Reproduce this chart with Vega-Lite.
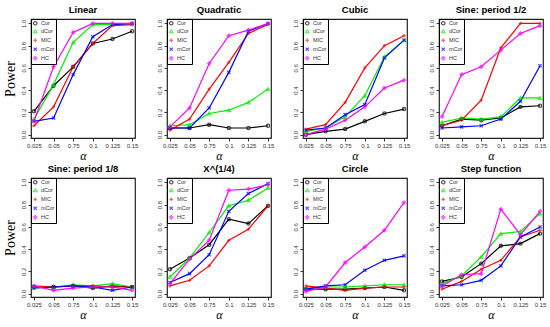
{
  "$schema": "https://vega.github.io/schema/vega-lite/v6.json",
  "padding": {"left": 2, "top": 4, "right": 2, "bottom": 0},
  "background": "white",
  "data": {"values": [
    {"panel":"Linear","method":"Cor","alpha":"0.025","power":0.21},
    {"panel":"Linear","method":"Cor","alpha":"0.05","power":0.44},
    {"panel":"Linear","method":"Cor","alpha":"0.75","power":0.61},
    {"panel":"Linear","method":"Cor","alpha":"0.1","power":0.82},
    {"panel":"Linear","method":"Cor","alpha":"0.125","power":0.86},
    {"panel":"Linear","method":"Cor","alpha":"0.15","power":0.93},
    {"panel":"Linear","method":"dCor","alpha":"0.025","power":0.14},
    {"panel":"Linear","method":"dCor","alpha":"0.05","power":0.45},
    {"panel":"Linear","method":"dCor","alpha":"0.75","power":0.83},
    {"panel":"Linear","method":"dCor","alpha":"0.1","power":0.99},
    {"panel":"Linear","method":"dCor","alpha":"0.125","power":0.99},
    {"panel":"Linear","method":"dCor","alpha":"0.15","power":1.0},
    {"panel":"Linear","method":"MIC","alpha":"0.025","power":0.08},
    {"panel":"Linear","method":"MIC","alpha":"0.05","power":0.25},
    {"panel":"Linear","method":"MIC","alpha":"0.75","power":0.61},
    {"panel":"Linear","method":"MIC","alpha":"0.1","power":0.82},
    {"panel":"Linear","method":"MIC","alpha":"0.125","power":0.98},
    {"panel":"Linear","method":"MIC","alpha":"0.15","power":0.99},
    {"panel":"Linear","method":"mCor","alpha":"0.025","power":0.12},
    {"panel":"Linear","method":"mCor","alpha":"0.05","power":0.15},
    {"panel":"Linear","method":"mCor","alpha":"0.75","power":0.54},
    {"panel":"Linear","method":"mCor","alpha":"0.1","power":0.88},
    {"panel":"Linear","method":"mCor","alpha":"0.125","power":0.99},
    {"panel":"Linear","method":"mCor","alpha":"0.15","power":1.0},
    {"panel":"Linear","method":"HC","alpha":"0.025","power":0.12},
    {"panel":"Linear","method":"HC","alpha":"0.05","power":0.61},
    {"panel":"Linear","method":"HC","alpha":"0.75","power":0.92},
    {"panel":"Linear","method":"HC","alpha":"0.1","power":1.0},
    {"panel":"Linear","method":"HC","alpha":"0.125","power":1.0},
    {"panel":"Linear","method":"HC","alpha":"0.15","power":1.0},

    {"panel":"Quadratic","method":"Cor","alpha":"0.025","power":0.06},
    {"panel":"Quadratic","method":"Cor","alpha":"0.05","power":0.06},
    {"panel":"Quadratic","method":"Cor","alpha":"0.75","power":0.09},
    {"panel":"Quadratic","method":"Cor","alpha":"0.1","power":0.06},
    {"panel":"Quadratic","method":"Cor","alpha":"0.125","power":0.06},
    {"panel":"Quadratic","method":"Cor","alpha":"0.15","power":0.08},
    {"panel":"Quadratic","method":"dCor","alpha":"0.025","power":0.08},
    {"panel":"Quadratic","method":"dCor","alpha":"0.05","power":0.09},
    {"panel":"Quadratic","method":"dCor","alpha":"0.75","power":0.19},
    {"panel":"Quadratic","method":"dCor","alpha":"0.1","power":0.22},
    {"panel":"Quadratic","method":"dCor","alpha":"0.125","power":0.29},
    {"panel":"Quadratic","method":"dCor","alpha":"0.15","power":0.41},
    {"panel":"Quadratic","method":"MIC","alpha":"0.025","power":0.04},
    {"panel":"Quadratic","method":"MIC","alpha":"0.05","power":0.14},
    {"panel":"Quadratic","method":"MIC","alpha":"0.75","power":0.41},
    {"panel":"Quadratic","method":"MIC","alpha":"0.1","power":0.65},
    {"panel":"Quadratic","method":"MIC","alpha":"0.125","power":0.91},
    {"panel":"Quadratic","method":"MIC","alpha":"0.15","power":0.99},
    {"panel":"Quadratic","method":"mCor","alpha":"0.025","power":0.06},
    {"panel":"Quadratic","method":"mCor","alpha":"0.05","power":0.06},
    {"panel":"Quadratic","method":"mCor","alpha":"0.75","power":0.24},
    {"panel":"Quadratic","method":"mCor","alpha":"0.1","power":0.56},
    {"panel":"Quadratic","method":"mCor","alpha":"0.125","power":0.93},
    {"panel":"Quadratic","method":"mCor","alpha":"0.15","power":1.0},
    {"panel":"Quadratic","method":"HC","alpha":"0.025","power":0.07},
    {"panel":"Quadratic","method":"HC","alpha":"0.05","power":0.24},
    {"panel":"Quadratic","method":"HC","alpha":"0.75","power":0.64},
    {"panel":"Quadratic","method":"HC","alpha":"0.1","power":0.89},
    {"panel":"Quadratic","method":"HC","alpha":"0.125","power":0.94},
    {"panel":"Quadratic","method":"HC","alpha":"0.15","power":1.0},

    {"panel":"Cubic","method":"Cor","alpha":"0.025","power":0.0},
    {"panel":"Cubic","method":"Cor","alpha":"0.05","power":0.03},
    {"panel":"Cubic","method":"Cor","alpha":"0.75","power":0.05},
    {"panel":"Cubic","method":"Cor","alpha":"0.1","power":0.12},
    {"panel":"Cubic","method":"Cor","alpha":"0.125","power":0.19},
    {"panel":"Cubic","method":"Cor","alpha":"0.15","power":0.23},
    {"panel":"Cubic","method":"dCor","alpha":"0.025","power":0.03},
    {"panel":"Cubic","method":"dCor","alpha":"0.05","power":0.06},
    {"panel":"Cubic","method":"dCor","alpha":"0.75","power":0.16},
    {"panel":"Cubic","method":"dCor","alpha":"0.1","power":0.35},
    {"panel":"Cubic","method":"dCor","alpha":"0.125","power":0.70},
    {"panel":"Cubic","method":"dCor","alpha":"0.15","power":0.85},
    {"panel":"Cubic","method":"MIC","alpha":"0.025","power":0.05},
    {"panel":"Cubic","method":"MIC","alpha":"0.05","power":0.09},
    {"panel":"Cubic","method":"MIC","alpha":"0.75","power":0.29},
    {"panel":"Cubic","method":"MIC","alpha":"0.1","power":0.60},
    {"panel":"Cubic","method":"MIC","alpha":"0.125","power":0.80},
    {"panel":"Cubic","method":"MIC","alpha":"0.15","power":0.89},
    {"panel":"Cubic","method":"mCor","alpha":"0.025","power":0.04},
    {"panel":"Cubic","method":"mCor","alpha":"0.05","power":0.06},
    {"panel":"Cubic","method":"mCor","alpha":"0.75","power":0.18},
    {"panel":"Cubic","method":"mCor","alpha":"0.1","power":0.27},
    {"panel":"Cubic","method":"mCor","alpha":"0.125","power":0.69},
    {"panel":"Cubic","method":"mCor","alpha":"0.15","power":0.85},
    {"panel":"Cubic","method":"HC","alpha":"0.025","power":0.0},
    {"panel":"Cubic","method":"HC","alpha":"0.05","power":0.05},
    {"panel":"Cubic","method":"HC","alpha":"0.75","power":0.13},
    {"panel":"Cubic","method":"HC","alpha":"0.1","power":0.25},
    {"panel":"Cubic","method":"HC","alpha":"0.125","power":0.42},
    {"panel":"Cubic","method":"HC","alpha":"0.15","power":0.49},

    {"panel":"Sine: period 1/2","method":"Cor","alpha":"0.025","power":0.08},
    {"panel":"Sine: period 1/2","method":"Cor","alpha":"0.05","power":0.14},
    {"panel":"Sine: period 1/2","method":"Cor","alpha":"0.75","power":0.13},
    {"panel":"Sine: period 1/2","method":"Cor","alpha":"0.1","power":0.15},
    {"panel":"Sine: period 1/2","method":"Cor","alpha":"0.125","power":0.25},
    {"panel":"Sine: period 1/2","method":"Cor","alpha":"0.15","power":0.26},
    {"panel":"Sine: period 1/2","method":"dCor","alpha":"0.025","power":0.11},
    {"panel":"Sine: period 1/2","method":"dCor","alpha":"0.05","power":0.15},
    {"panel":"Sine: period 1/2","method":"dCor","alpha":"0.75","power":0.14},
    {"panel":"Sine: period 1/2","method":"dCor","alpha":"0.1","power":0.16},
    {"panel":"Sine: period 1/2","method":"dCor","alpha":"0.125","power":0.33},
    {"panel":"Sine: period 1/2","method":"dCor","alpha":"0.15","power":0.33},
    {"panel":"Sine: period 1/2","method":"MIC","alpha":"0.025","power":0.08},
    {"panel":"Sine: period 1/2","method":"MIC","alpha":"0.05","power":0.13},
    {"panel":"Sine: period 1/2","method":"MIC","alpha":"0.75","power":0.31},
    {"panel":"Sine: period 1/2","method":"MIC","alpha":"0.1","power":0.78},
    {"panel":"Sine: period 1/2","method":"MIC","alpha":"0.125","power":1.0},
    {"panel":"Sine: period 1/2","method":"MIC","alpha":"0.15","power":1.0},
    {"panel":"Sine: period 1/2","method":"mCor","alpha":"0.025","power":0.06},
    {"panel":"Sine: period 1/2","method":"mCor","alpha":"0.05","power":0.07},
    {"panel":"Sine: period 1/2","method":"mCor","alpha":"0.75","power":0.08},
    {"panel":"Sine: period 1/2","method":"mCor","alpha":"0.1","power":0.14},
    {"panel":"Sine: period 1/2","method":"mCor","alpha":"0.125","power":0.30},
    {"panel":"Sine: period 1/2","method":"mCor","alpha":"0.15","power":0.62},
    {"panel":"Sine: period 1/2","method":"HC","alpha":"0.025","power":0.16},
    {"panel":"Sine: period 1/2","method":"HC","alpha":"0.05","power":0.54},
    {"panel":"Sine: period 1/2","method":"HC","alpha":"0.75","power":0.61},
    {"panel":"Sine: period 1/2","method":"HC","alpha":"0.1","power":0.76},
    {"panel":"Sine: period 1/2","method":"HC","alpha":"0.125","power":0.91},
    {"panel":"Sine: period 1/2","method":"HC","alpha":"0.15","power":0.98},

    {"panel":"Sine: period 1/8","method":"Cor","alpha":"0.025","power":0.06},
    {"panel":"Sine: period 1/8","method":"Cor","alpha":"0.05","power":0.06},
    {"panel":"Sine: period 1/8","method":"Cor","alpha":"0.75","power":0.07},
    {"panel":"Sine: period 1/8","method":"Cor","alpha":"0.1","power":0.05},
    {"panel":"Sine: period 1/8","method":"Cor","alpha":"0.125","power":0.07},
    {"panel":"Sine: period 1/8","method":"Cor","alpha":"0.15","power":0.06},
    {"panel":"Sine: period 1/8","method":"dCor","alpha":"0.025","power":0.06},
    {"panel":"Sine: period 1/8","method":"dCor","alpha":"0.05","power":0.06},
    {"panel":"Sine: period 1/8","method":"dCor","alpha":"0.75","power":0.08},
    {"panel":"Sine: period 1/8","method":"dCor","alpha":"0.1","power":0.07},
    {"panel":"Sine: period 1/8","method":"dCor","alpha":"0.125","power":0.09},
    {"panel":"Sine: period 1/8","method":"dCor","alpha":"0.15","power":0.06},
    {"panel":"Sine: period 1/8","method":"MIC","alpha":"0.025","power":0.07},
    {"panel":"Sine: period 1/8","method":"MIC","alpha":"0.05","power":0.06},
    {"panel":"Sine: period 1/8","method":"MIC","alpha":"0.75","power":0.07},
    {"panel":"Sine: period 1/8","method":"MIC","alpha":"0.1","power":0.07},
    {"panel":"Sine: period 1/8","method":"MIC","alpha":"0.125","power":0.06},
    {"panel":"Sine: period 1/8","method":"MIC","alpha":"0.15","power":0.06},
    {"panel":"Sine: period 1/8","method":"mCor","alpha":"0.025","power":0.05},
    {"panel":"Sine: period 1/8","method":"mCor","alpha":"0.05","power":0.06},
    {"panel":"Sine: period 1/8","method":"mCor","alpha":"0.75","power":0.07},
    {"panel":"Sine: period 1/8","method":"mCor","alpha":"0.1","power":0.06},
    {"panel":"Sine: period 1/8","method":"mCor","alpha":"0.125","power":0.03},
    {"panel":"Sine: period 1/8","method":"mCor","alpha":"0.15","power":0.06},
    {"panel":"Sine: period 1/8","method":"HC","alpha":"0.025","power":0.07},
    {"panel":"Sine: period 1/8","method":"HC","alpha":"0.05","power":0.03},
    {"panel":"Sine: period 1/8","method":"HC","alpha":"0.75","power":0.05},
    {"panel":"Sine: period 1/8","method":"HC","alpha":"0.1","power":0.06},
    {"panel":"Sine: period 1/8","method":"HC","alpha":"0.125","power":0.06},
    {"panel":"Sine: period 1/8","method":"HC","alpha":"0.15","power":0.03},

    {"panel":"X^(1/4)","method":"Cor","alpha":"0.025","power":0.22},
    {"panel":"X^(1/4)","method":"Cor","alpha":"0.05","power":0.32},
    {"panel":"X^(1/4)","method":"Cor","alpha":"0.75","power":0.44},
    {"panel":"X^(1/4)","method":"Cor","alpha":"0.1","power":0.67},
    {"panel":"X^(1/4)","method":"Cor","alpha":"0.125","power":0.63},
    {"panel":"X^(1/4)","method":"Cor","alpha":"0.15","power":0.79},
    {"panel":"X^(1/4)","method":"dCor","alpha":"0.025","power":0.15},
    {"panel":"X^(1/4)","method":"dCor","alpha":"0.05","power":0.32},
    {"panel":"X^(1/4)","method":"dCor","alpha":"0.75","power":0.55},
    {"panel":"X^(1/4)","method":"dCor","alpha":"0.1","power":0.79},
    {"panel":"X^(1/4)","method":"dCor","alpha":"0.125","power":0.84},
    {"panel":"X^(1/4)","method":"dCor","alpha":"0.15","power":0.95},
    {"panel":"X^(1/4)","method":"MIC","alpha":"0.025","power":0.07},
    {"panel":"X^(1/4)","method":"MIC","alpha":"0.05","power":0.12},
    {"panel":"X^(1/4)","method":"MIC","alpha":"0.75","power":0.25},
    {"panel":"X^(1/4)","method":"MIC","alpha":"0.1","power":0.48},
    {"panel":"X^(1/4)","method":"MIC","alpha":"0.125","power":0.58},
    {"panel":"X^(1/4)","method":"MIC","alpha":"0.15","power":0.79},
    {"panel":"X^(1/4)","method":"mCor","alpha":"0.025","power":0.10},
    {"panel":"X^(1/4)","method":"mCor","alpha":"0.05","power":0.18},
    {"panel":"X^(1/4)","method":"mCor","alpha":"0.75","power":0.35},
    {"panel":"X^(1/4)","method":"mCor","alpha":"0.1","power":0.74},
    {"panel":"X^(1/4)","method":"mCor","alpha":"0.125","power":0.90},
    {"panel":"X^(1/4)","method":"mCor","alpha":"0.15","power":0.99},
    {"panel":"X^(1/4)","method":"HC","alpha":"0.025","power":0.09},
    {"panel":"X^(1/4)","method":"HC","alpha":"0.05","power":0.31},
    {"panel":"X^(1/4)","method":"HC","alpha":"0.75","power":0.48},
    {"panel":"X^(1/4)","method":"HC","alpha":"0.1","power":0.93},
    {"panel":"X^(1/4)","method":"HC","alpha":"0.125","power":0.94},
    {"panel":"X^(1/4)","method":"HC","alpha":"0.15","power":0.98},

    {"panel":"Circle","method":"Cor","alpha":"0.025","power":0.04},
    {"panel":"Circle","method":"Cor","alpha":"0.05","power":0.04},
    {"panel":"Circle","method":"Cor","alpha":"0.75","power":0.04},
    {"panel":"Circle","method":"Cor","alpha":"0.1","power":0.05},
    {"panel":"Circle","method":"Cor","alpha":"0.125","power":0.06},
    {"panel":"Circle","method":"Cor","alpha":"0.15","power":0.03},
    {"panel":"Circle","method":"dCor","alpha":"0.025","power":0.05},
    {"panel":"Circle","method":"dCor","alpha":"0.05","power":0.06},
    {"panel":"Circle","method":"dCor","alpha":"0.75","power":0.06},
    {"panel":"Circle","method":"dCor","alpha":"0.1","power":0.07},
    {"panel":"Circle","method":"dCor","alpha":"0.125","power":0.08},
    {"panel":"Circle","method":"dCor","alpha":"0.15","power":0.08},
    {"panel":"Circle","method":"MIC","alpha":"0.025","power":0.07},
    {"panel":"Circle","method":"MIC","alpha":"0.05","power":0.05},
    {"panel":"Circle","method":"MIC","alpha":"0.75","power":0.03},
    {"panel":"Circle","method":"MIC","alpha":"0.1","power":0.05},
    {"panel":"Circle","method":"MIC","alpha":"0.125","power":0.06},
    {"panel":"Circle","method":"MIC","alpha":"0.15","power":0.06},
    {"panel":"Circle","method":"mCor","alpha":"0.025","power":0.04},
    {"panel":"Circle","method":"mCor","alpha":"0.05","power":0.07},
    {"panel":"Circle","method":"mCor","alpha":"0.75","power":0.08},
    {"panel":"Circle","method":"mCor","alpha":"0.1","power":0.21},
    {"panel":"Circle","method":"mCor","alpha":"0.125","power":0.30},
    {"panel":"Circle","method":"mCor","alpha":"0.15","power":0.34},
    {"panel":"Circle","method":"HC","alpha":"0.025","power":0.02},
    {"panel":"Circle","method":"HC","alpha":"0.05","power":0.06},
    {"panel":"Circle","method":"HC","alpha":"0.75","power":0.28},
    {"panel":"Circle","method":"HC","alpha":"0.1","power":0.42},
    {"panel":"Circle","method":"HC","alpha":"0.125","power":0.57},
    {"panel":"Circle","method":"HC","alpha":"0.15","power":0.82},

    {"panel":"Step function","method":"Cor","alpha":"0.025","power":0.11},
    {"panel":"Step function","method":"Cor","alpha":"0.05","power":0.15},
    {"panel":"Step function","method":"Cor","alpha":"0.75","power":0.27},
    {"panel":"Step function","method":"Cor","alpha":"0.1","power":0.43},
    {"panel":"Step function","method":"Cor","alpha":"0.125","power":0.45},
    {"panel":"Step function","method":"Cor","alpha":"0.15","power":0.54},
    {"panel":"Step function","method":"dCor","alpha":"0.025","power":0.09},
    {"panel":"Step function","method":"dCor","alpha":"0.05","power":0.16},
    {"panel":"Step function","method":"dCor","alpha":"0.75","power":0.33},
    {"panel":"Step function","method":"dCor","alpha":"0.1","power":0.54},
    {"panel":"Step function","method":"dCor","alpha":"0.125","power":0.56},
    {"panel":"Step function","method":"dCor","alpha":"0.15","power":0.72},
    {"panel":"Step function","method":"MIC","alpha":"0.025","power":0.04},
    {"panel":"Step function","method":"MIC","alpha":"0.05","power":0.11},
    {"panel":"Step function","method":"MIC","alpha":"0.75","power":0.22},
    {"panel":"Step function","method":"MIC","alpha":"0.1","power":0.30},
    {"panel":"Step function","method":"MIC","alpha":"0.125","power":0.51},
    {"panel":"Step function","method":"MIC","alpha":"0.15","power":0.57},
    {"panel":"Step function","method":"mCor","alpha":"0.025","power":0.07},
    {"panel":"Step function","method":"mCor","alpha":"0.05","power":0.08},
    {"panel":"Step function","method":"mCor","alpha":"0.75","power":0.12},
    {"panel":"Step function","method":"mCor","alpha":"0.1","power":0.25},
    {"panel":"Step function","method":"mCor","alpha":"0.125","power":0.51},
    {"panel":"Step function","method":"mCor","alpha":"0.15","power":0.60},
    {"panel":"Step function","method":"HC","alpha":"0.025","power":0.07},
    {"panel":"Step function","method":"HC","alpha":"0.05","power":0.17},
    {"panel":"Step function","method":"HC","alpha":"0.75","power":0.18},
    {"panel":"Step function","method":"HC","alpha":"0.1","power":0.76},
    {"panel":"Step function","method":"HC","alpha":"0.125","power":0.53},
    {"panel":"Step function","method":"HC","alpha":"0.15","power":0.74}
  ]},
  "columns": 4,
  "spacing": {"row": 0, "column": 16},
  "resolve": {"legend": {"color": "independent", "shape": "independent"}},
  "concat": [
    {"width":104,"height":119,"title":"Linear","transform":[{"filter":"datum.panel === 'Linear'"}],
     "encoding":{"x":{"field":"alpha","type":"ordinal","sort":["0.025","0.05","0.75","0.1","0.125","0.15"],"scale":{"type":"point","padding":0.15},"axis":{"title":"α"}},
       "y":{"field":"power","type":"quantitative","scale":{"domain":[-0.03,1.04],"nice":false,"zero":false},"axis":{"title":"Power","values":[0,0.2,0.4,0.6,0.8,1],"format":".1f"}},
       "color":{"field":"method","type":"nominal","scale":{"domain":["Cor","dCor","MIC","mCor","HC"],"range":["#000000","#00EE00","#FF0000","#0000FF","#FF00FF"]},"legend":{"title":null}}},
     "layer":[{"mark":{"type":"line","strokeWidth":1.2}},{"mark":{"type":"point","filled":false,"size":10,"strokeWidth":1.3},"encoding":{"shape":{"field":"method","type":"nominal","scale":{"domain":["Cor","dCor","MIC","mCor","HC"],"range":["circle","triangle-up","M0,-1V1M-1,0H1","M-1,-1L1,1M1,-1L-1,1","diamond"]},"legend":{"title":null}}}}]},
    {"width":104,"height":119,"title":"Quadratic","transform":[{"filter":"datum.panel === 'Quadratic'"}],
     "encoding":{"x":{"field":"alpha","type":"ordinal","sort":["0.025","0.05","0.75","0.1","0.125","0.15"],"scale":{"type":"point","padding":0.15},"axis":{"title":"α"}},
       "y":{"field":"power","type":"quantitative","scale":{"domain":[-0.03,1.04],"nice":false,"zero":false},"axis":{"title":null,"values":[0,0.2,0.4,0.6,0.8,1],"format":".1f"}},
       "color":{"field":"method","type":"nominal","scale":{"domain":["Cor","dCor","MIC","mCor","HC"],"range":["#000000","#00EE00","#FF0000","#0000FF","#FF00FF"]},"legend":{"title":null}}},
     "layer":[{"mark":{"type":"line","strokeWidth":1.2}},{"mark":{"type":"point","filled":false,"size":10,"strokeWidth":1.3},"encoding":{"shape":{"field":"method","type":"nominal","scale":{"domain":["Cor","dCor","MIC","mCor","HC"],"range":["circle","triangle-up","M0,-1V1M-1,0H1","M-1,-1L1,1M1,-1L-1,1","diamond"]},"legend":{"title":null}}}}]},
    {"width":104,"height":119,"title":"Cubic","transform":[{"filter":"datum.panel === 'Cubic'"}],
     "encoding":{"x":{"field":"alpha","type":"ordinal","sort":["0.025","0.05","0.75","0.1","0.125","0.15"],"scale":{"type":"point","padding":0.15},"axis":{"title":"α"}},
       "y":{"field":"power","type":"quantitative","scale":{"domain":[-0.03,1.04],"nice":false,"zero":false},"axis":{"title":null,"values":[0,0.2,0.4,0.6,0.8,1],"format":".1f"}},
       "color":{"field":"method","type":"nominal","scale":{"domain":["Cor","dCor","MIC","mCor","HC"],"range":["#000000","#00EE00","#FF0000","#0000FF","#FF00FF"]},"legend":{"title":null}}},
     "layer":[{"mark":{"type":"line","strokeWidth":1.2}},{"mark":{"type":"point","filled":false,"size":10,"strokeWidth":1.3},"encoding":{"shape":{"field":"method","type":"nominal","scale":{"domain":["Cor","dCor","MIC","mCor","HC"],"range":["circle","triangle-up","M0,-1V1M-1,0H1","M-1,-1L1,1M1,-1L-1,1","diamond"]},"legend":{"title":null}}}}]},
    {"width":104,"height":119,"title":"Sine: period 1/2","transform":[{"filter":"datum.panel === 'Sine: period 1/2'"}],
     "encoding":{"x":{"field":"alpha","type":"ordinal","sort":["0.025","0.05","0.75","0.1","0.125","0.15"],"scale":{"type":"point","padding":0.15},"axis":{"title":"α"}},
       "y":{"field":"power","type":"quantitative","scale":{"domain":[-0.03,1.04],"nice":false,"zero":false},"axis":{"title":null,"values":[0,0.2,0.4,0.6,0.8,1],"format":".1f"}},
       "color":{"field":"method","type":"nominal","scale":{"domain":["Cor","dCor","MIC","mCor","HC"],"range":["#000000","#00EE00","#FF0000","#0000FF","#FF00FF"]},"legend":{"title":null}}},
     "layer":[{"mark":{"type":"line","strokeWidth":1.2}},{"mark":{"type":"point","filled":false,"size":10,"strokeWidth":1.3},"encoding":{"shape":{"field":"method","type":"nominal","scale":{"domain":["Cor","dCor","MIC","mCor","HC"],"range":["circle","triangle-up","M0,-1V1M-1,0H1","M-1,-1L1,1M1,-1L-1,1","diamond"]},"legend":{"title":null}}}}]},
    {"width":104,"height":119,"title":"Sine: period 1/8","transform":[{"filter":"datum.panel === 'Sine: period 1/8'"}],
     "encoding":{"x":{"field":"alpha","type":"ordinal","sort":["0.025","0.05","0.75","0.1","0.125","0.15"],"scale":{"type":"point","padding":0.15},"axis":{"title":"α"}},
       "y":{"field":"power","type":"quantitative","scale":{"domain":[-0.03,1.04],"nice":false,"zero":false},"axis":{"title":"Power","values":[0,0.2,0.4,0.6,0.8,1],"format":".1f"}},
       "color":{"field":"method","type":"nominal","scale":{"domain":["Cor","dCor","MIC","mCor","HC"],"range":["#000000","#00EE00","#FF0000","#0000FF","#FF00FF"]},"legend":{"title":null}}},
     "layer":[{"mark":{"type":"line","strokeWidth":1.2}},{"mark":{"type":"point","filled":false,"size":10,"strokeWidth":1.3},"encoding":{"shape":{"field":"method","type":"nominal","scale":{"domain":["Cor","dCor","MIC","mCor","HC"],"range":["circle","triangle-up","M0,-1V1M-1,0H1","M-1,-1L1,1M1,-1L-1,1","diamond"]},"legend":{"title":null}}}}]},
    {"width":104,"height":119,"title":"X^(1/4)","transform":[{"filter":"datum.panel === 'X^(1/4)'"}],
     "encoding":{"x":{"field":"alpha","type":"ordinal","sort":["0.025","0.05","0.75","0.1","0.125","0.15"],"scale":{"type":"point","padding":0.15},"axis":{"title":"α"}},
       "y":{"field":"power","type":"quantitative","scale":{"domain":[-0.03,1.04],"nice":false,"zero":false},"axis":{"title":null,"values":[0,0.2,0.4,0.6,0.8,1],"format":".1f"}},
       "color":{"field":"method","type":"nominal","scale":{"domain":["Cor","dCor","MIC","mCor","HC"],"range":["#000000","#00EE00","#FF0000","#0000FF","#FF00FF"]},"legend":{"title":null}}},
     "layer":[{"mark":{"type":"line","strokeWidth":1.2}},{"mark":{"type":"point","filled":false,"size":10,"strokeWidth":1.3},"encoding":{"shape":{"field":"method","type":"nominal","scale":{"domain":["Cor","dCor","MIC","mCor","HC"],"range":["circle","triangle-up","M0,-1V1M-1,0H1","M-1,-1L1,1M1,-1L-1,1","diamond"]},"legend":{"title":null}}}}]},
    {"width":104,"height":119,"title":"Circle","transform":[{"filter":"datum.panel === 'Circle'"}],
     "encoding":{"x":{"field":"alpha","type":"ordinal","sort":["0.025","0.05","0.75","0.1","0.125","0.15"],"scale":{"type":"point","padding":0.15},"axis":{"title":"α"}},
       "y":{"field":"power","type":"quantitative","scale":{"domain":[-0.03,1.04],"nice":false,"zero":false},"axis":{"title":null,"values":[0,0.2,0.4,0.6,0.8,1],"format":".1f"}},
       "color":{"field":"method","type":"nominal","scale":{"domain":["Cor","dCor","MIC","mCor","HC"],"range":["#000000","#00EE00","#FF0000","#0000FF","#FF00FF"]},"legend":{"title":null}}},
     "layer":[{"mark":{"type":"line","strokeWidth":1.2}},{"mark":{"type":"point","filled":false,"size":10,"strokeWidth":1.3},"encoding":{"shape":{"field":"method","type":"nominal","scale":{"domain":["Cor","dCor","MIC","mCor","HC"],"range":["circle","triangle-up","M0,-1V1M-1,0H1","M-1,-1L1,1M1,-1L-1,1","diamond"]},"legend":{"title":null}}}}]},
    {"width":104,"height":119,"title":"Step function","transform":[{"filter":"datum.panel === 'Step function'"}],
     "encoding":{"x":{"field":"alpha","type":"ordinal","sort":["0.025","0.05","0.75","0.1","0.125","0.15"],"scale":{"type":"point","padding":0.15},"axis":{"title":"α"}},
       "y":{"field":"power","type":"quantitative","scale":{"domain":[-0.03,1.04],"nice":false,"zero":false},"axis":{"title":null,"values":[0,0.2,0.4,0.6,0.8,1],"format":".1f"}},
       "color":{"field":"method","type":"nominal","scale":{"domain":["Cor","dCor","MIC","mCor","HC"],"range":["#000000","#00EE00","#FF0000","#0000FF","#FF00FF"]},"legend":{"title":null}}},
     "layer":[{"mark":{"type":"line","strokeWidth":1.2}},{"mark":{"type":"point","filled":false,"size":10,"strokeWidth":1.3},"encoding":{"shape":{"field":"method","type":"nominal","scale":{"domain":["Cor","dCor","MIC","mCor","HC"],"range":["circle","triangle-up","M0,-1V1M-1,0H1","M-1,-1L1,1M1,-1L-1,1","diamond"]},"legend":{"title":null}}}}]}
  ],
  "config": {
    "font": "Liberation Sans",
    "view": {"stroke": "#222222", "strokeWidth": 1.2},
    "title": {"fontSize": 9.5, "fontWeight": "bold", "color": "black", "offset": 4, "font": "Liberation Sans"},
    "axis": {"grid": false, "domain": false, "tickColor": "#333333", "tickSize": 3, "labelFontSize": 6, "labelColor": "#333333", "labelPadding": 1.5, "labelOverlap": false, "titleFont": "Liberation Serif", "titleFontWeight": "normal", "titleColor": "black"},
    "axisX": {"labelAngle": 0, "titleFontSize": 12, "titleFontStyle": "italic", "titlePadding": 2, "labelFlush": false},
    "axisY": {"labelAngle": -90, "labelAlign": "center", "labelBaseline": "bottom", "titleFontSize": 14, "titlePadding": 3},
    "legend": {"orient": "top-left", "offset": 0, "padding": 1.5, "strokeColor": "black", "fillColor": "white", "labelFontSize": 5.5, "symbolSize": 12, "rowPadding": 0, "labelOffset": 3, "symbolStrokeWidth": 1.1, "cornerRadius": 0, "labelColor": "#333333", "symbolType": "circle"}
  }
}
